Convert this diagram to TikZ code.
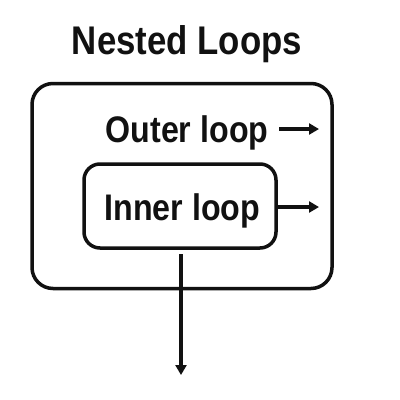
\documentclass[tikz,border=0pt]{standalone}
\usepackage{fontspec}
\setmainfont{Liberation Sans}[FakeStretch=0.87]
\usetikzlibrary{arrows.meta}
\definecolor{ink}{HTML}{111111}
\tikzset{
  box/.style={draw=ink, line width=3.5pt, rounded corners=21pt, inner sep=0pt},
  lbl/.style={text=ink, font=\bfseries\fontsize{37}{40}\selectfont, inner sep=0pt, anchor=base},
  arr/.style={draw=ink, line width=3.2pt, -{Triangle[length=10pt,width=11pt]}}
}
\begin{document}
\begin{tikzpicture}[x=1pt,y=-1pt]
\useasboundingbox (0,0) rectangle (400,400);
\node[box, minimum width=300pt, minimum height=205pt] (outer) at (182,186) {};
\node[box, rounded corners=16pt, minimum width=192pt, minimum height=84pt] (inner) at (180,206) {};
\node[lbl, font=\bfseries\fontsize{40}{44}\selectfont] (title) at (187,54) {Nested Loops};
\node[lbl] (outerlbl) at (187,142) {Outer loop};
\node[lbl] (innerlbl) at (182.5,220) {Inner loop};
\coordinate (oa1) at (279,129);
\coordinate (oa2) at (319,129);
\coordinate (ia2) at (319,207);
\coordinate (da1) at (181,254);
\coordinate (da2) at (181,375);
\draw[arr] (oa1) -- (oa2);
\draw[arr] (inner.east |- ia2) -- (ia2);
\draw[arr] (da1) -- (da2);
\end{tikzpicture}
\end{document}
